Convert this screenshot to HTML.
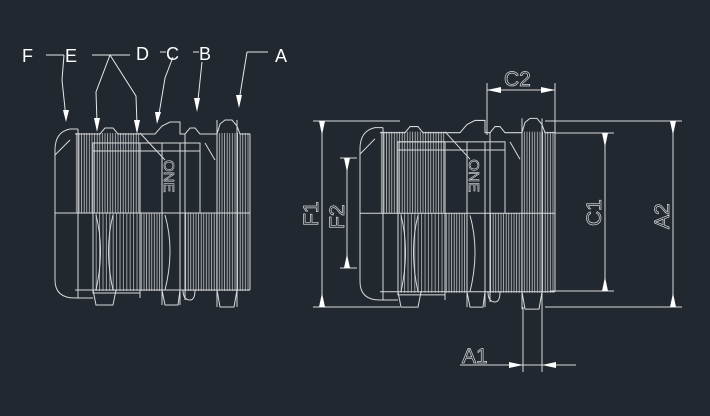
<!DOCTYPE html>
<html><head><style>html,body{margin:0;padding:0;background:#212830;}svg{display:block}</style></head>
<body>
<svg width="710" height="416" viewBox="0 0 710 416" xmlns="http://www.w3.org/2000/svg">
<defs>
<pattern id="th" width="2.6" height="10" patternUnits="userSpaceOnUse">
<line x1="1" y1="0" x2="1" y2="10" stroke="#d8d8d8" stroke-width="0.7"/>
</pattern>
<pattern id="th2" width="3.4" height="10" patternUnits="userSpaceOnUse">
<line x1="1" y1="0" x2="1" y2="10" stroke="#cfcfcf" stroke-width="0.7"/>
</pattern>
<g id="part" fill="none" stroke="#d9d9d9" stroke-width="1">
  <rect x="75" y="133" width="65" height="80" fill="url(#th)" stroke="none"/>
  <rect x="93" y="213" width="47" height="78" fill="url(#th2)" stroke="none"/>
  <rect x="140" y="213" width="22" height="78" fill="url(#th)" stroke="none"/>
  <rect x="185" y="213" width="65" height="78" fill="url(#th)" stroke="none"/>
  <rect x="217" y="133" width="33" height="80" fill="url(#th)" stroke="none"/>
  <path d="M78,129 L70,129 Q55,132 55,150 L55,280 Q55,298 75,298 L93,298"/>
  <line x1="78" y1="129" x2="78" y2="298"/>
  <line x1="55" y1="213" x2="250" y2="213"/>
  <line x1="55" y1="155" x2="70" y2="140"/>
  <path d="M75,134 L100,134 L105,128 L113,128 L118,134 L140,134 L155,134 L162,126 L170,122 L180,122 L180,134 L185,134 L190,128 L195,128 L200,134 L217,134 L220,124 L225,120 L232,120 L237,126 L240,134 L250,134 L250,290"/>
  <path d="M75,290 L250,290"/>
  <rect x="93" y="143" width="47" height="150"/>
  <rect x="93" y="143" width="107" height="8"/>
  <line x1="140" y1="151" x2="140" y2="298"/>
  <line x1="162" y1="143" x2="162" y2="305"/>
  <line x1="180" y1="143" x2="180" y2="305"/>
  <line x1="200" y1="143" x2="200" y2="213"/>
  <line x1="185" y1="134" x2="185" y2="300"/>
  <line x1="217" y1="120" x2="217" y2="307"/>
  <line x1="237" y1="120" x2="237" y2="307"/>
  <line x1="140" y1="133" x2="165" y2="160"/>
  <line x1="205" y1="143" x2="215" y2="160"/>
  <path d="M93,290 L96,305 L113,305 L116,290"/>
  <path d="M162,290 L165,305 L178,305 L180,290"/>
  <path d="M217,290 L220,307 L234,307 L237,290"/>
  <path d="M183,290 Q183,300 190,300 Q195,300 195,290"/>
  <path d="M96,215 Q105,250 96,290 M113,215 Q104,250 113,290"/>
  <path d="M165,215 Q175,250 165,290"/>
  <text x="0" y="0" transform="translate(164,160) rotate(90)" font-family="Liberation Sans, sans-serif" font-size="15" fill="none" stroke="#d9d9d9" stroke-width="0.6">ONE</text>
</g>
</defs>
<use href="#part"/>
<use href="#part" transform="translate(305,-4) scale(1,1.02)"/>
<g font-family="Liberation Sans, sans-serif" font-size="18" fill="#fff" stroke="none">
<text x="22" y="62">F</text><text x="65" y="62">E</text><text x="136" y="60">D</text>
<text x="166" y="60">C</text><text x="199" y="60">B</text><text x="275" y="62">A</text>
</g>
<g stroke="#e8e8e8" stroke-width="1" fill="none">
<path d="M46,55 L64,55 M64,55 L62,80 L66,118"/>
<path d="M92,55 L130,55 M110,55 L96,92 L97,122 M110,55 L136,96 L137,125"/>
<path d="M160,52 L166,52 M173,57 L165,78 L158,120"/>
<path d="M193,52 L199,52 M202,62 L198,100"/>
<path d="M247,52 L268,52 M247,52 L240,95"/>
</g>
<g fill="#fff">
<path d="M63,110 L69,110 L66,122 Z"/><path d="M94,118 L100,118 L97,132 Z"/>
<path d="M134,120 L140,120 L137,134 Z"/><path d="M155,112 L161,112 L157,124 Z"/>
<path d="M194,98 L200,98 L197,112 Z"/><path d="M236,95 L242,95 L239,108 Z"/>
</g>
<g stroke="#d9d9d9" stroke-width="1" fill="none">
<line x1="313" y1="121" x2="400" y2="121"/><line x1="313" y1="307" x2="400" y2="307"/>
<line x1="322" y1="121" x2="322" y2="307"/>
<line x1="340" y1="158" x2="357" y2="158"/><line x1="340" y1="268" x2="357" y2="268"/>
<line x1="347" y1="158" x2="347" y2="268"/>
<line x1="545" y1="121" x2="682" y2="121"/><line x1="545" y1="307" x2="682" y2="307"/>
<line x1="673" y1="121" x2="673" y2="307"/>
<line x1="555" y1="133" x2="614" y2="133"/><line x1="550" y1="291" x2="614" y2="291"/>
<line x1="605" y1="133" x2="605" y2="291"/>
<line x1="487" y1="83" x2="487" y2="135"/><line x1="555" y1="83" x2="555" y2="133"/>
<line x1="487" y1="90" x2="555" y2="90"/>
<line x1="523" y1="307" x2="523" y2="372"/><line x1="542" y1="307" x2="542" y2="372"/>
<line x1="460" y1="365" x2="576" y2="365"/>
</g>
<g fill="#fff">
<path d="M319,121 L325,121 L322,135 Z"/><path d="M319,307 L325,307 L322,293 Z"/>
<path d="M344,158 L350,158 L347,172 Z"/><path d="M344,268 L350,268 L347,254 Z"/>
<path d="M670,121 L676,121 L673,135 Z"/><path d="M670,307 L676,307 L673,293 Z"/>
<path d="M602,133 L608,133 L605,147 Z"/><path d="M602,291 L608,291 L605,277 Z"/>
<path d="M487,90 L501,87 L501,93 Z"/><path d="M555,90 L541,87 L541,93 Z"/>
<path d="M523,365 L509,362 L509,368 Z"/><path d="M542,365 L556,362 L556,368 Z"/>
</g>
<g font-family="Liberation Sans, sans-serif" font-size="21" fill="none" stroke="#d9d9d9" stroke-width="0.7">
<text x="504" y="86">C2</text>
<text x="462" y="363">A1</text>
<text transform="translate(318,226) rotate(-90)">F1</text>
<text transform="translate(344,229) rotate(-90)">F2</text>
<text transform="translate(601,226) rotate(-90)">C1</text>
<text transform="translate(669,229) rotate(-90)">A2</text>
</g>
</svg>
</body></html>
